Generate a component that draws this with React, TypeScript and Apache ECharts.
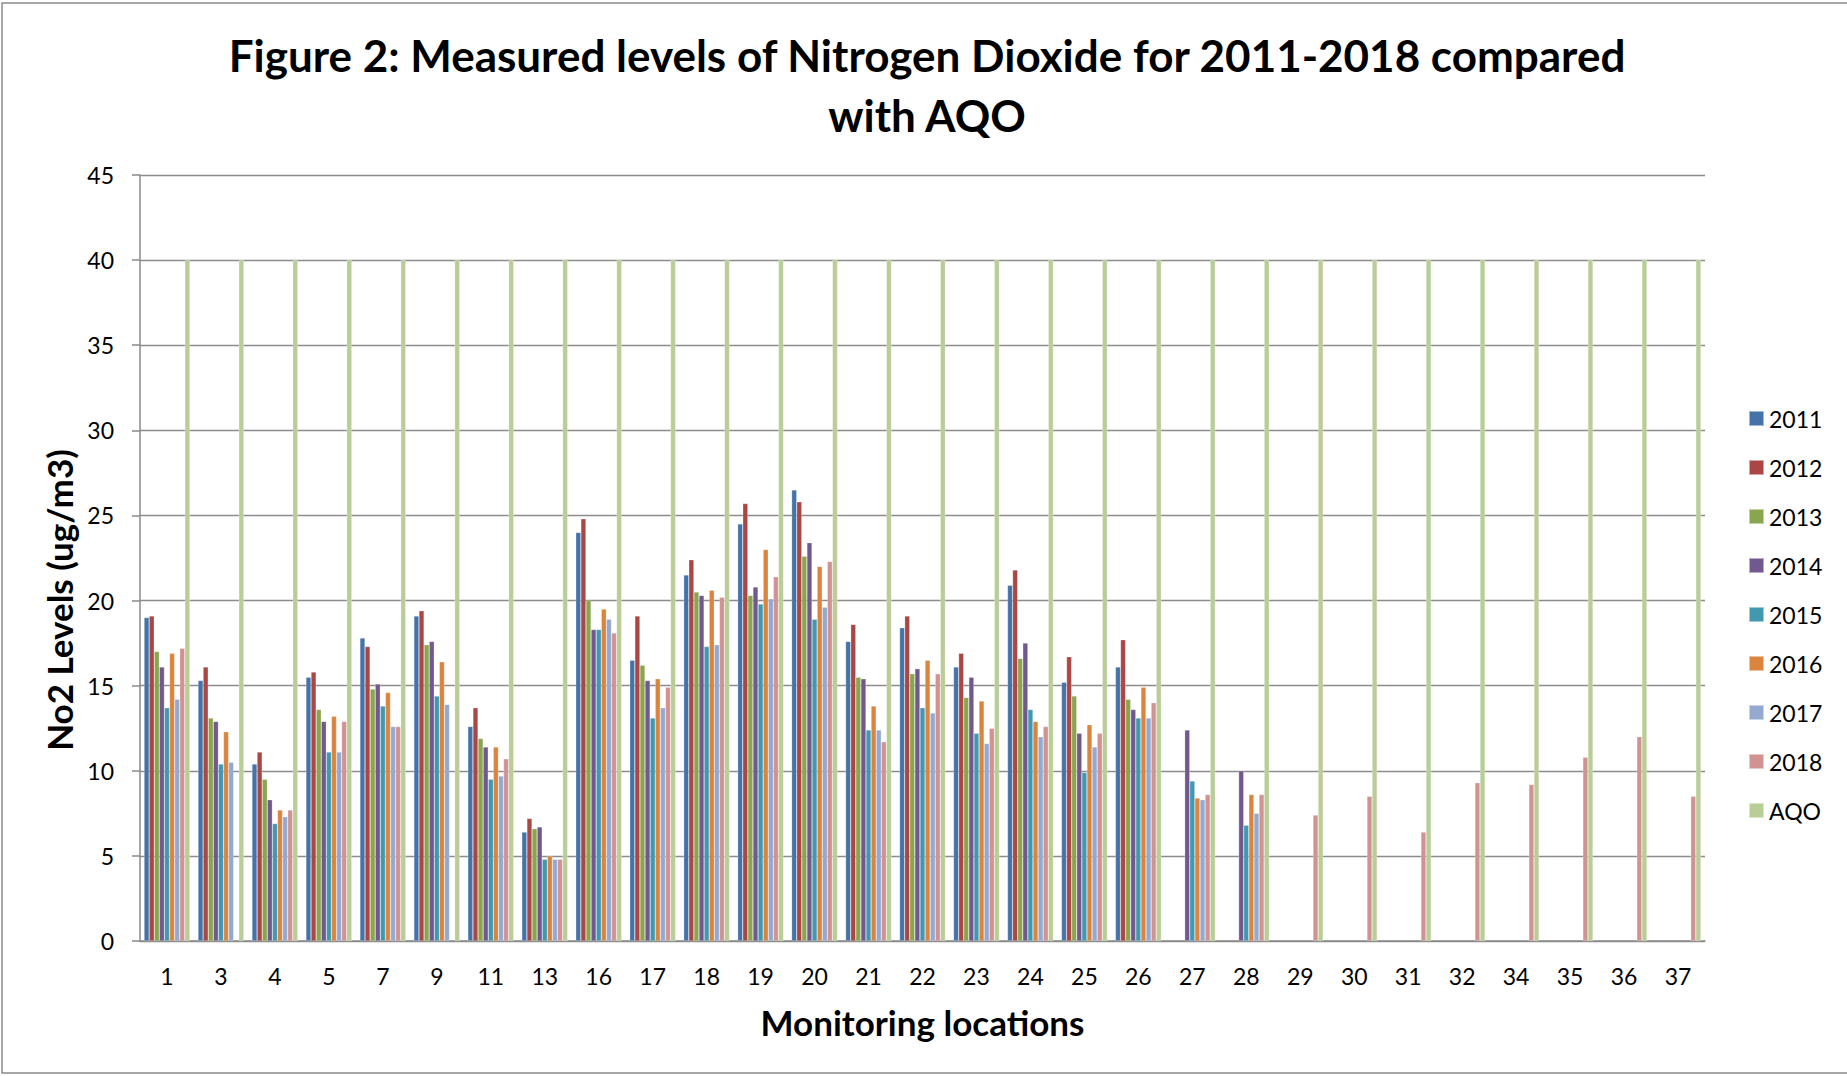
import React, { useEffect, useRef } from "react";
import * as echarts from "echarts";

const categories = ["1","3","4","5","7","9","11","13","16","17","18","19","20","21","22","23","24","25","26","27","28","29","30","31","32","34","35","36","37"];
const N = null;
const s2011 = [19.0,15.3,10.4,15.5,17.8,19.1,12.6,6.4,24.0,16.5,21.5,24.5,26.5,17.6,18.4,16.1,20.9,15.2,16.1,N,N,N,N,N,N,N,N,N,N];
const s2012 = [19.1,16.1,11.1,15.8,17.3,19.4,13.7,7.2,24.8,19.1,22.4,25.7,25.8,18.6,19.1,16.9,21.8,16.7,17.7,N,N,N,N,N,N,N,N,N,N];
const s2013 = [17.0,13.1,9.5,13.6,14.8,17.4,11.9,6.6,20.0,16.2,20.5,20.3,22.6,15.5,15.7,14.3,16.6,14.4,14.2,N,N,N,N,N,N,N,N,N,N];
const s2014 = [16.1,12.9,8.3,12.9,15.1,17.6,11.4,6.7,18.3,15.3,20.3,20.8,23.4,15.4,16.0,15.5,17.5,12.2,13.6,12.4,10.0,N,N,N,N,N,N,N,N];
const s2015 = [13.7,10.4,6.9,11.1,13.8,14.4,9.5,4.8,18.3,13.1,17.3,19.8,18.9,12.4,13.7,12.2,13.6,9.9,13.1,9.4,6.8,N,N,N,N,N,N,N,N];
const s2016 = [16.9,12.3,7.7,13.2,14.6,16.4,11.4,5.0,19.5,15.4,20.6,23.0,22.0,13.8,16.5,14.1,12.9,12.7,14.9,8.4,8.6,N,N,N,N,N,N,N,N];
const s2017 = [14.2,10.5,7.3,11.1,12.6,13.9,9.7,4.8,18.9,13.7,17.4,20.1,19.6,12.4,13.4,11.6,12.0,11.4,13.1,8.3,7.5,N,N,N,N,N,N,N,N];
const s2018 = [17.2,N,7.7,12.9,12.6,N,10.7,4.8,18.1,14.9,20.2,21.4,22.3,11.7,15.7,12.5,12.6,12.2,14.0,8.6,8.6,7.4,8.5,6.4,9.3,9.2,10.8,12.0,8.5];
const aqo = [40,40,40,40,40,40,40,40,40,40,40,40,40,40,40,40,40,40,40,40,40,40,40,40,40,40,40,40,40];

const seriesNames = ["2011","2012","2013","2014","2015","2016","2017","2018","AQO"];
const seriesData = [s2011, s2012, s2013, s2014, s2015, s2016, s2017, s2018, aqo];
const colors = ["#4572A7","#AA4643","#89A54E","#71588F","#4198AF","#DB843D","#93A9CF","#D19392","#B9CD96"];

const FONT = "Lato, 'Open Sans', sans-serif";

export default function App() {
  const ref = useRef<HTMLDivElement>(null);
  useEffect(() => {
    document.body.style.margin = "0";
    const chart = echarts.init(ref.current!, null, { renderer: "svg" });
    chart.setOption({
      animation: false,
      backgroundColor: "#ffffff",
      color: colors,
      textStyle: { fontFamily: FONT, color: "#000" },
      title: {
        text: "Figure 2: Measured levels of Nitrogen Dioxide for 2011-2018 compared\nwith AQO",
        left: 922,
        top: 20,
        textAlign: "center",
        textStyle: { fontFamily: FONT, fontSize: 44, fontWeight: "bold", color: "#000", lineHeight: 60 },
      },
      legend: {
        orient: "vertical",
        left: 1748,
        top: 407,
        padding: 0,
        itemWidth: 15,
        itemHeight: 15,
        itemGap: 26,
        icon: "rect",
        data: seriesNames,
        textStyle: { fontFamily: FONT, fontSize: 23, color: "#000", lineHeight: 22 },
      },
      graphic: [
        {
          type: "rect",
          shape: { x: 2, y: 3, width: 1900, height: 1070 },
          style: { fill: "none", stroke: "#8a8a8a", lineWidth: 1.5 },
          silent: true,
        },
        {
          type: "text",
          x: 59,
          y: 600,
          rotation: Math.PI / 2,
          silent: true,
          style: {
            text: "No2 Levels (ug/m3)",
            fontFamily: FONT,
            fontSize: 35,
            fontWeight: "bold",
            fill: "#000",
            align: "center",
            verticalAlign: "middle",
          },
        },
      ],
      grid: { left: 140, right: 142, top: 175, bottom: 135, containLabel: false },
      xAxis: {
        type: "category",
        data: categories,
        name: "Monitoring locations",
        nameLocation: "middle",
        nameGap: 63,
        nameTextStyle: { fontFamily: FONT, fontSize: 35, fontWeight: "bold", color: "#000" },
        axisLine: { show: true, lineStyle: { color: "#8a8a8a", width: 1.5 } },
        axisTick: { show: false },
        axisLabel: { fontFamily: FONT, fontSize: 23, color: "#000", margin: 23, interval: 0 },
      },
      yAxis: {
        type: "value",
        min: 0,
        max: 45,
        interval: 5,
        axisLine: { show: true, lineStyle: { color: "#8a8a8a", width: 1.5 } },
        axisTick: { show: true, length: 8, lineStyle: { color: "#8a8a8a", width: 1.5 } },
        axisLabel: { fontFamily: FONT, fontSize: 23, color: "#000", margin: 26 },
        splitLine: { show: true, lineStyle: { color: "#8c8c8c", width: 1.3 } },
      },
      series: seriesNames.map((name, i) => ({
        name,
        type: "bar",
        data: seriesData[i],
        barGap: "0%",
        barCategoryGap: "15%",
        itemStyle: { color: colors[i], borderColor: "rgba(255,255,255,0.5)", borderWidth: 0.5 },
      })),
    });
    return () => chart.dispose();
  }, []);
  return <div ref={ref} style={{ width: 1847, height: 1076 }} />;
}
